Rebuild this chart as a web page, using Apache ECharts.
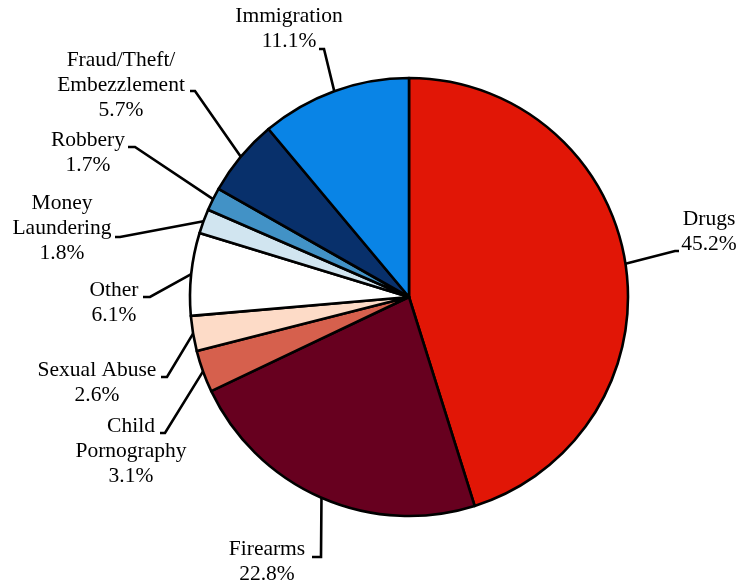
<!DOCTYPE html>
<html>
<head>
<meta charset="utf-8">
<script src="https://cdn.jsdelivr.net/npm/echarts@6/dist/echarts.min.js"></script>
<style>
html,body{margin:0;padding:0;background:#fff;}
#chart{width:739px;height:585px;}
</style>
</head>
<body>
<div id="chart"></div>
<script>
// ---- data ----
const categories = ['Drugs', 'Firearms', 'Child\nPornography', 'Sexual Abuse', 'Other',
  'Money\nLaundering', 'Robbery', 'Fraud/Theft/\nEmbezzlement', 'Immigration'];
const shares = [45.2, 22.8, 3.1, 2.6, 6.1, 1.8, 1.7, 5.7, 11.1];

// ---- styles / layout ----
const sliceColors = ['#E11606', '#67001F', '#D6604D', '#FDDBC7', '#FFFFFF',
  '#D1E5F0', '#4292C6', '#08306B', '#0984E6'];
const CX = 409, CY = 297, R = 219;
// label block centres
const labelCenters = [[709, 232], [267, 562], [131, 451], [97, 383], [114, 303],
  [62, 228], [88, 153], [121, 85], [289, 29]];
// leader line: elbow point and end point
const leaderBends = [
  [[675, 251], [679, 251]],
  [[321, 557], [312, 557]],
  [[165, 433], [160, 433]],
  [[167, 377], [161, 377]],
  [[150, 297], [143, 297]],
  [[120, 237], [115, 237]],
  [[135, 147], [128, 147]],
  [[195, 91], [190, 91]],
  [[324, 49], [319, 49]]
];

const total = shares.reduce((a, b) => a + b, 0);
function edgePoint(i) {
  let cum = 0;
  for (let k = 0; k < i; k++) cum += shares[k];
  const mid = (cum + shares[i] / 2) / total * 2 * Math.PI; // clockwise from top
  return [CX + R * Math.sin(mid), CY - R * Math.cos(mid)];
}

const chart = echarts.init(document.getElementById('chart'), null, {renderer: 'canvas'});
chart.setOption({
  animation: false,
  backgroundColor: '#fff',
  series: [{
    type: 'pie',
    center: [CX, CY],
    radius: [0, R],
    startAngle: 90,
    clockwise: true,
    avoidLabelOverlap: false,
    emphasis: {disabled: true},
    itemStyle: {borderColor: '#000', borderWidth: 2.6},
    label: {
      show: true,
      position: 'outside',
      formatter: p => p.name + '\n' + p.value.toFixed(1) + '%',
      fontFamily: '"Liberation Serif", "Times New Roman", serif',
      fontSize: 21.5,
      lineHeight: 25,
      color: '#000',
      align: 'center',
      overflow: 'none',
      width: 220
    },
    labelLine: {show: true, length: 10, length2: 5, smooth: false,
      lineStyle: {color: '#000', width: 2.6}},
    labelLayout: function (params) {
      const i = params.dataIndex;
      return {
        x: labelCenters[i][0],
        y: labelCenters[i][1],
        align: 'center',
        verticalAlign: 'middle',
        labelLinePoints: [edgePoint(i), leaderBends[i][0], leaderBends[i][1]]
      };
    },
    data: categories.map((c, i) => ({
      name: c, value: shares[i], itemStyle: {color: sliceColors[i]}
    }))
  }]
});
</script>
</body>
</html>
